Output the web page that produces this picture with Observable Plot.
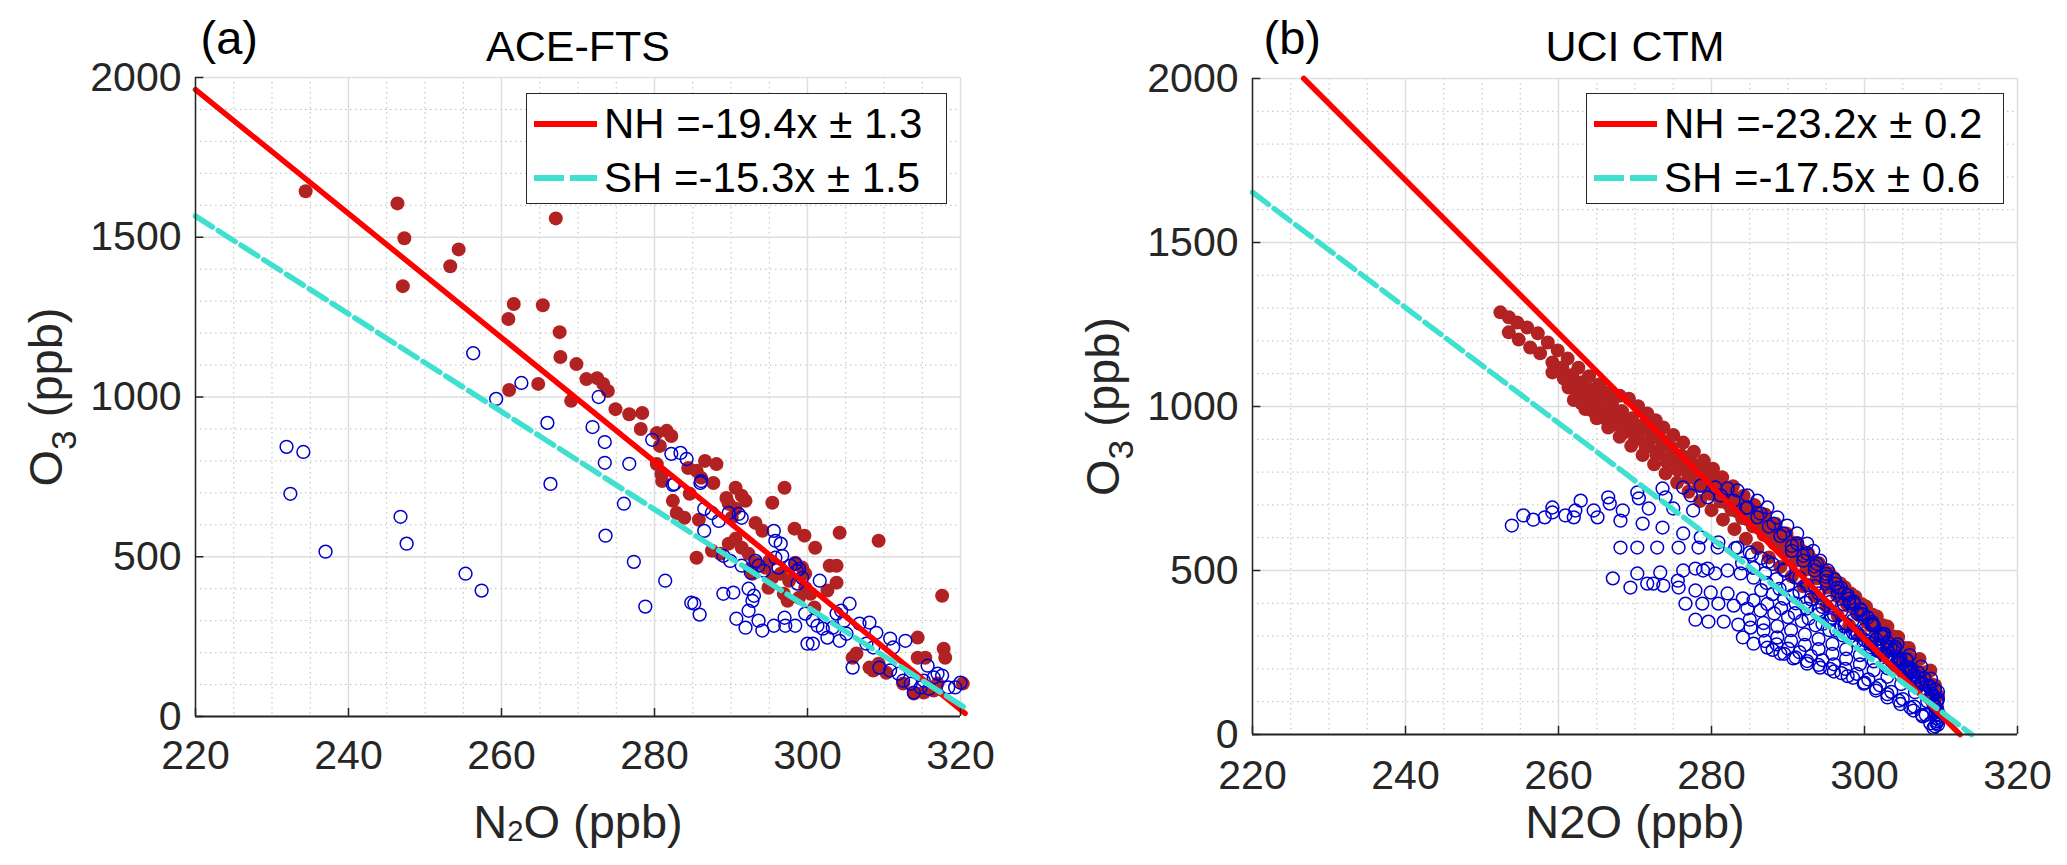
<!DOCTYPE html>
<html><head><meta charset="utf-8">
<script src="https://cdn.jsdelivr.net/npm/d3@7"></script>
<script src="https://cdn.jsdelivr.net/npm/@observablehq/plot@0.6"></script>
<style>
html,body{margin:0;padding:0;background:#fff;}
#fig{position:relative;width:2067px;height:865px;overflow:hidden;font-family:"Liberation Sans",Arial,Helvetica,sans-serif;background:#fff;}
.panel{position:absolute;top:0;}
.legend{position:absolute;background:#fff;border:1.5px solid #262626;box-sizing:border-box;}
.legend .row{position:absolute;left:0;height:54px;display:flex;align-items:center;font-size:42px;color:#000;white-space:nowrap;line-height:1;}
.legend .row svg{margin-left:7px;margin-right:7px;}
</style></head>
<body><div id="fig"></div>
<script>
// ---------- tick values ----------
const majorX = [220, 240, 260, 280, 300, 320];
const minorX = [225, 230, 235, 245, 250, 255, 265, 270, 275, 285, 290, 295, 305, 310, 315];
const majorY = [0, 500, 1000, 1500, 2000];
const minorY = [100, 200, 300, 400, 600, 700, 800, 900, 1100, 1200, 1300, 1400, 1600, 1700, 1800, 1900];

// ---------- (a) ACE-FTS : [N2O, O3] ----------
const aceNH = [[234.4,1644],[246.4,1606],[247.3,1497],[247.1,1347],[253.3,1409],[254.4,1462],[267.1,1559],[261.6,1291],[260.9,1244],[265.4,1287],[267.6,1203],[267.7,1125],[269.8,1103],[261.0,1022],[264.8,1041],[271.1,1056],[272.5,1059],[273.3,1041],[273.9,1019],[269.1,988],[274.9,962],[276.7,946],[278.4,950],[278.2,900],[280.3,887],[281.6,894],[282.2,878],[280.7,847],[280.3,790],[280.9,759],[281.0,737],[286.6,800],[288.1,790],[284.4,778],[285.5,769],[286.1,747],[287.7,731],[290.6,716],[297.0,716],[295.4,669],[291.4,691],[291.9,675],[282.4,675],[282.9,637],[284.6,697],[283.9,622],[289.7,666],[290.6,650],[290.1,622],[293.2,606],[294.1,581],[298.3,588],[299.6,566],[301.0,528],[304.2,575],[309.3,550],[285.5,497],[287.5,519],[288.6,509],[289.7,541],[290.6,556],[291.4,528],[292.3,509],[293.2,481],[292.8,447],[294.5,466],[295.4,434],[294.9,403],[296.5,447],[297.6,425],[296.9,384],[298.4,481],[299.3,466],[299.7,447],[299.7,403],[300.4,384],[298.9,372],[302.9,472],[303.8,472],[303.8,419],[302.6,394],[297.4,362],[300.9,341],[305.9,184],[306.4,197],[308.1,153],[308.6,144],[314.4,247],[314.4,184],[315.4,184],[317.6,378],[317.8,212],[318.0,184],[320.3,103],[313.9,72],[315.2,75],[316.5,81],[317.0,103],[312.5,103],[310.3,137],[309.3,165],[295.0,487],[292.5,462],[289.4,684],[285.8,616]];
const aceSH = [[256.3,1137],[262.6,1044],[259.3,994],[272.7,1000],[266.0,919],[271.9,906],[273.5,859],[273.5,794],[276.7,791],[266.4,728],[279.7,866],[282.2,822],[283.4,825],[284.2,806],[282.4,725],[286.0,731],[276.0,666],[273.6,566],[277.3,484],[231.9,844],[234.1,828],[232.4,697],[237.0,516],[246.8,625],[247.6,541],[255.3,447],[257.4,394],[281.4,425],[278.8,344],[284.8,356],[285.2,353],[285.9,319],[286.5,650],[287.5,637],[288.4,612],[286.5,581],[289.7,637],[291.0,634],[291.4,622],[289.0,503],[289.9,487],[291.4,472],[293.2,487],[293.6,472],[294.3,456],[292.6,450],[295.6,581],[295.8,550],[296.5,541],[296.7,503],[295.8,497],[298.4,478],[298.9,462],[299.3,434],[298.7,416],[301.6,425],[289.0,384],[290.3,388],[292.3,400],[293.0,378],[292.8,362],[292.3,331],[290.7,306],[291.9,278],[293.6,300],[294.1,269],[295.6,284],[297.1,284],[297.0,309],[298.4,284],[300.0,228],[300.7,228],[299.7,322],[300.7,300],[301.3,284],[302.0,275],[302.6,247],[303.3,278],[303.8,322],[304.4,331],[305.5,353],[304.8,300],[305.1,259],[304.2,237],[305.9,153],[306.8,291],[308.1,294],[309.0,262],[307.7,228],[308.6,216],[310.8,244],[312.8,237],[311.2,216],[309.4,153],[310.8,144],[311.9,134],[312.5,112],[313.5,103],[314.8,91],[315.9,87],[315.2,112],[313.9,75],[316.5,122],[317.6,128],[318.4,91],[319.3,91],[320.0,106],[315.7,159],[317.0,134],[286.1,737],[282.6,728],[296.2,466],[297.8,472],[298.6,456]];
const aceFitNH = [[220, 1962], [320.6, 10]];   // NH = -19.4x
const aceFitSH = [[220, 1566], [320.6, 27]];   // SH = -15.3x

// ---------- (b) UCI CTM : [N2O, O3] ----------
const ctmNH = [
 [252.4,1287],[253.5,1272],[254.6,1256],[255.9,1241],[257.3,1223],[258.6,1195],[259.9,1171],[261.2,1146],[262.6,1118],[264.0,1092],[265.4,1068],[266.8,1046],[268.0,1033],[269.2,1024],[270.4,1001],[271.6,979],[272.7,958],[273.7,936],[275.0,913],[276.3,890],[277.7,862],[279.0,835],[280.2,810],[281.4,784],[282.8,757],[284.2,728],[285.6,700],[287.0,671],[288.4,642],[289.8,613],[291.2,584],[292.6,553],[294.0,523],[295.4,492],[296.8,461],[298.2,430],[299.6,398],[301.0,366],[302.4,333],[303.8,299],[305.2,264],[306.6,228],[308.0,190],[309.2,150],
 [253.5,1226],[254.8,1204],[256.3,1180],[257.6,1162],[259.2,1134],[260.5,1119],[261.8,1096],[263.1,1074],[264.4,1052],[265.7,1030],[267.0,1008],[268.3,986],[269.6,964],[270.9,942],[272.2,920],[273.5,897],[274.8,874],[276.1,851],[277.4,828],[278.7,804],[280.0,780],[281.3,756],[282.6,731],[283.9,706],[285.2,680],[286.5,655],[287.8,629],[289.1,602],[290.4,576],[291.7,549],[293.0,522],[294.3,494],[295.6,466],[296.9,438],[298.2,409],[299.5,380],[300.8,350],[302.1,320],[303.4,289],[304.7,257],[306.0,224],[307.3,190],[308.6,154],[309.6,118],
 [261.0,1085],[262.4,1062],[263.8,1040],[265.2,1017],[266.6,995],[268.0,972],[269.4,950],[270.8,927],[272.2,904],[273.6,881],[275.0,858],[276.4,835],[277.8,812],[279.2,788],[280.6,764],[282.0,740],[283.4,715],[284.8,690],[286.2,665],[287.6,639],[289.0,613],[290.4,587],[291.8,560],[293.2,533],[294.6,505],[296.0,477],[297.4,449],[298.8,420],[300.2,390],[301.6,360],[303.0,329],[304.4,297],[305.8,264],[307.2,230],[308.6,195],
 [259.2,1104],[260.7,1085],[261.3,1058],[262.6,1040],[263.9,1018],[265.2,996],[266.5,974],[267.8,952],[269.1,930],[270.4,908],[271.7,886],[273.0,864],[274.3,842],[275.6,820],[276.9,797],[278.2,774],[279.5,751],[280.8,728],[282.1,704],[283.4,680],[284.7,656],[286.0,632],[287.3,607],[288.6,582],[289.9,557],[291.2,531],[292.5,505],[293.8,479],[295.1,452],[296.4,425],[297.7,398],[299.0,370],[300.3,342],[301.6,313],[302.9,284],[304.2,254],[305.5,224],[306.8,193],[308.1,161],[309.3,128],
 [263.0,1010],[264.4,988],[265.8,966],[267.2,944],[268.6,921],[270.0,898],[271.4,875],[272.8,852],[274.2,829],[275.6,806],[277.0,782],[278.4,758],[279.8,734],[281.2,710],[282.6,685],[284.0,660],[285.4,635],[286.8,609],[288.2,583],[289.6,557],[291.0,530],[292.4,503],[293.8,476],[295.2,448],[296.6,420],[298.0,391],[299.4,362],[300.8,332],[302.2,302],[303.6,271],[305.0,239],[306.4,206],[307.8,172],[309.0,138],
 [262.0,1020],[263.5,992],[265.0,964],[266.5,936],[268.0,908],[269.5,880],[271.0,852],[272.5,824],[274.0,796],[275.5,768],[277.0,740],[278.5,712],[280.0,684],[281.5,655],[283.0,626],[284.5,597],[286.0,568],[287.5,540],[289.0,511],[290.5,482],[292.0,452],[293.5,422],[295.0,392],[296.5,362],[298.0,332],[299.5,302],[301.0,272],[302.5,241],[304.0,210],[305.5,178],[307.0,146],[308.5,112],[309.5,80]
];
const ctmSH = [
 [253.9,637],[256.7,655],[258.2,662],[259.2,692],[260.9,668],[262.9,713],[266.5,723],[268.4,683],[270.3,738],[271.8,689],[273.6,750],[276.3,753],[278.6,759],[280.5,753],[282.1,750],[283.4,744],[284.7,729],[286.0,713],[287.3,692],[288.6,662],[289.9,637],[291.2,613],[292.5,582],[293.3,560],[294.2,530],[295.2,500],[296.1,472],[296.9,448],[297.8,425],[298.6,405],[299.5,382],[300.4,357],[301.2,333],[302.1,308],[303.0,282],[303.8,256],[304.7,230],[305.6,204],[306.4,180],[307.3,155],[308.2,125],[309.0,94],[309.3,60],[309.4,35],
 [255.4,668],[259.2,677],[262.0,662],[262.2,683],[264.6,683],[265.1,662],[266.7,704],[270.5,720],[274.0,723],[275.0,689],[277.6,683],
 [277.3,729],[279.5,723],[281.2,729],[282.9,713],[284.7,692],[286.4,674],[288.1,643],[289.4,613],[291.2,582],[292.5,552],[293.8,520],[295.0,490],[296.2,460],[297.4,430],[298.6,398],[299.8,366],[301.0,334],[302.2,300],[303.4,266],[304.6,232],[305.8,198],[307.0,163],[308.2,126],[309.2,88],
 [284.5,690],[286.0,662],[287.5,634],[289.0,605],[290.5,575],[292.0,545],[293.5,513],[295.0,481],[296.5,448],[298.0,414],[299.5,379],[301.0,343],[302.5,306],[304.0,268],[305.5,229],[307.0,188],[308.5,144],[309.5,100],
 [268.1,652],[271.0,643],[273.6,631],[276.3,613],[278.6,601],[280.9,586],[283.1,568],[285.3,548],[287.4,526],[289.5,503],[291.5,478],[293.5,452],[295.4,425],[297.3,397],[299.1,368],[300.9,338],[302.6,307],[304.3,275],[305.9,242],[307.4,207],[308.7,170],[309.6,130],
 [268.1,570],[270.3,570],[272.9,570],[275.7,570],[278.3,570],[280.8,570],[283.4,570],[285.0,555],[286.5,538],[288.0,520],[289.5,500],[291.0,478],[292.5,455],[294.0,430],[295.5,404],[297.0,377],[298.5,349],[300.0,320],[301.5,290],[303.0,259],[304.5,227],[306.0,193],[307.5,157],[308.8,118],[309.5,75],
 [284.0,522],[285.5,508],[287.0,492],[288.5,474],[290.0,455],[291.5,434],[293.0,412],[294.5,389],[296.0,364],[297.5,338],[299.0,311],[300.5,283],[302.0,254],[303.5,224],[305.0,192],[306.5,158],[308.0,122],[309.2,85],
 [267.1,476],[269.4,448],[270.3,491],[271.6,460],[272.4,460],[273.3,494],[273.7,454],[275.6,469],[275.7,448],[276.3,500],[277.9,506],[278.9,500],[279.5,506],[280.5,491],[282.1,500],[283.8,491],[285.5,478],[287.2,462],[288.9,444],[290.6,424],[292.3,402],[294.0,379],[295.7,355],[297.4,330],[299.1,304],[300.8,277],[302.5,249],[304.2,220],[305.9,189],[307.5,155],[308.9,118],
 [286.5,440],[288.0,428],[289.5,414],[291.0,400],[292.5,384],[294.0,367],[295.5,349],[297.0,330],[298.5,310],[300.0,288],[301.5,266],[303.0,242],[304.5,216],[306.0,188],[307.5,158],[308.8,125],
 [277.9,439],[279.9,433],[282.1,430],[284.1,415],[285.5,409],[287.3,398],[289.1,385],[290.9,370],[292.7,354],[294.5,337],[296.3,318],[298.1,298],[299.9,277],[301.7,255],[303.5,231],[305.3,205],[307.0,176],[308.5,144],[309.6,108],
 [276.6,399],[278.8,399],[280.9,399],[282.9,393],[284.7,384],[286.4,378],[288.2,369],[290.0,358],[291.8,346],[293.6,333],[295.4,318],[297.2,302],[299.0,285],[300.8,266],[302.6,246],[304.4,224],[306.2,199],[307.8,171],[309.2,138],
 [285.0,350],[286.8,340],[288.6,330],[290.4,318],[292.2,305],[294.0,291],[295.8,276],[297.6,260],[299.4,242],[301.2,223],[303.0,202],[304.8,179],[306.6,152],[308.2,122],
 [277.9,350],[279.6,344],[281.6,344],[283.5,335],[285.1,326],[286.8,317],[288.6,296],[290.4,285],[292.2,273],[294.0,260],[295.8,246],[297.6,231],[299.4,214],[301.2,196],[303.0,176],[304.8,154],[306.6,129],[308.2,101],[309.3,70],
 [287.0,285],[288.5,275],[290.0,262],[291.5,251],[293.0,239],[294.5,227],[296.0,214],[297.5,200],[299.0,185],[300.5,168],[302.0,150],[303.5,130],[305.0,108],[306.5,85],[308.0,60],
 [288.0,258],[289.5,246],[291.0,235],[292.5,224],[294.0,212],[295.5,200],[297.0,187],[298.5,173],[300.0,158],[301.5,141],[303.0,123],[304.5,103],[306.0,82],[307.5,60],
 [284.1,296],[285.5,277],[287.3,265],[289.0,247],[290.7,232],[292.5,216],[294.2,204],[296.0,192],[297.8,178],[299.9,155],[301.5,134],[303.0,113],[304.7,93],[306.4,73],[307.6,55],[308.6,34],[309.2,25],
 [290.5,560],[292.0,530],[293.5,500],[295.0,468],[296.5,436],[298.0,402],[299.5,368],[301.0,334],[302.5,298],[304.0,262],[305.5,226],[307.0,188],[308.5,148],[309.5,105],
 [309.5,40],[309.6,30],[309.4,50],[309.7,45],[309.0,20],[309.8,60]
];
const ctmFitNH = [[226.7, 2000], [312.5, 0]];  // NH = -23.2x
const ctmFitSH = [[220, 1653], [314.0, 0]];    // SH = -17.5x

const panels = [
  {left: 0, width: 1030, mL: 195, mR: 70, mT: 77, mB: 149, tag: "(a)", tagDx: 5, tagDy: -24, title: "ACE-FTS", xlabel: "N_2O (ppb)", xlDy: 121,
   nh: aceNH, sh: aceSH, fitNH: aceFitNH, fitSH: aceFitSH, tickPad: 23,
   legend: {left: 526, top: 93, width: 421, height: 111, rows: ["NH =-19.4x \u00b1 1.3", "SH =-15.3x \u00b1 1.5"]}},
  {left: 1030, width: 1037, mL: 222, mR: 50, mT: 78, mB: 131, tag: "(b)", tagDx: 11, tagDy: -25, title: "UCI CTM", xlabel: "N2O (ppb)", xlDy: 103,
   nh: ctmNH, sh: ctmSH, fitNH: ctmFitNH, fitSH: ctmFitSH, tickPad: 25,
   legend: {left: 1586, top: 93, width: 418, height: 111, rows: ["NH =-23.2x \u00b1 0.2", "SH =-17.5x \u00b1 0.6"]}}
];

const FONT = '"Liberation Sans", Arial, Helvetica, sans-serif';
const AX = "#262626";
const fig = document.getElementById("fig");

for (const p of panels) {
  const svg = Plot.plot({
    width: p.width, height: 865,
    marginLeft: p.mL, marginRight: p.mR, marginTop: p.mT, marginBottom: p.mB,
    x: {domain: [220, 320]},
    y: {domain: [0, 2000]},
    style: {fontFamily: FONT, background: "transparent", color: AX, overflow: "visible"},
    marks: [
      Plot.gridX(minorX, {stroke: "#bdbdbd", strokeOpacity: 1, strokeWidth: 1, strokeDasharray: "1.5,3.5"}),
      Plot.gridY(minorY, {stroke: "#bdbdbd", strokeOpacity: 1, strokeWidth: 1, strokeDasharray: "1.5,3.5"}),
      Plot.gridX(majorX, {stroke: "#dedede", strokeOpacity: 1, strokeWidth: 1.5}),
      Plot.gridY(majorY, {stroke: "#dedede", strokeOpacity: 1, strokeWidth: 1.5}),
      Plot.dot(p.nh, {x: d => d[0], y: d => d[1], r: 7, fill: "#B22222", stroke: "none"}),
      Plot.dot(p.sh, {x: d => d[0], y: d => d[1], r: 6.4, fill: "none", stroke: "#0000CD", strokeWidth: 1.5}),
      Plot.line(p.fitNH, {x: d => d[0], y: d => d[1], stroke: "#FF0000", strokeWidth: 5.5}),
      Plot.line(p.fitSH, {x: d => d[0], y: d => d[1], stroke: "#40E0D0", strokeWidth: 5.5, strokeDasharray: "20,7"}),
      Plot.ruleX([220], {stroke: AX, strokeWidth: 1.5}),
      Plot.ruleY([0], {stroke: AX, strokeWidth: 2}),
      Plot.ruleX(majorX, {x: d => d, y1: 0, y2: 25, stroke: AX, strokeWidth: 1.5}),
      Plot.ruleY(majorY, {y: d => d, x1: 220, x2: 221.1, stroke: AX, strokeWidth: 1.5}),
      Plot.axisX(majorX, {anchor: "bottom", tickSize: 0, tickPadding: p.tickPad, fontSize: 41, label: null, tickFormat: d => String(d)}),
      Plot.axisY(majorY, {anchor: "left", tickSize: 0, tickPadding: 14, fontSize: 41, label: null, tickFormat: d => String(d)}),
      Plot.text([p.title], {text: d => d, frameAnchor: "top", dy: -(p.mT - 60), lineAnchor: "bottom", fontSize: 43, fill: "#000"}),
      Plot.text([p.tag], {text: d => d, frameAnchor: "top-left", dx: p.tagDx, dy: p.tagDy, textAnchor: "start", lineAnchor: "bottom", fontSize: 47, fill: "#000"}),
      Plot.text([p.xlabel], {text: d => d, frameAnchor: "bottom", dy: p.xlDy, lineAnchor: "bottom", fontSize: 47, fill: AX}),
      Plot.text(["O_3 (ppb)"], {text: d => d, frameAnchor: "left", dx: -134, rotate: -90, lineAnchor: "bottom", textAnchor: "middle", fontSize: 47, fill: AX})
    ]
  });
  // subscripts (N_2O, O_3)
  d3.select(svg).selectAll("text").each(function () {
    const s = this.textContent;
    const m = s.match(/^(.*?)_(.)(.*)$/);
    if (!m || this.querySelector("tspan")) return;
    const fs = 47;
    const isO3 = m[2] === "3";
    const subScale = isO3 ? 0.75 : 0.62;
    const shift = isO3 ? 0.3 * fs : 0.08 * fs;
    this.textContent = "";
    const t = d3.select(this);
    t.append("tspan").text(m[1]);
    t.append("tspan").attr("font-size", subScale * fs).attr("dy", shift).text(m[2]);
    t.append("tspan").attr("dy", -shift).text(m[3]);
  });
  svg.classList.add("panel");
  svg.style.left = p.left + "px";
  fig.appendChild(svg);

  // legend box
  const L = document.createElement("div");
  L.className = "legend";
  Object.assign(L.style, {left: p.legend.left + "px", top: p.legend.top + "px", width: p.legend.width + "px", height: p.legend.height + "px"});
  p.legend.rows.forEach((txt, i) => {
    const row = document.createElement("div");
    row.className = "row";
    row.style.top = (3 + i * 54) + "px";
    const isNH = i === 0;
    row.innerHTML = `<svg width="63" height="10"><line x1="0" y1="5" x2="63" y2="5" stroke="${isNH ? "#FF0000" : "#40E0D0"}" stroke-width="6" ${isNH ? "" : 'stroke-dasharray="30,6"'}/></svg><span>${txt}</span>`;
    L.appendChild(row);
  });
  fig.appendChild(L);
}
</script></body></html>
